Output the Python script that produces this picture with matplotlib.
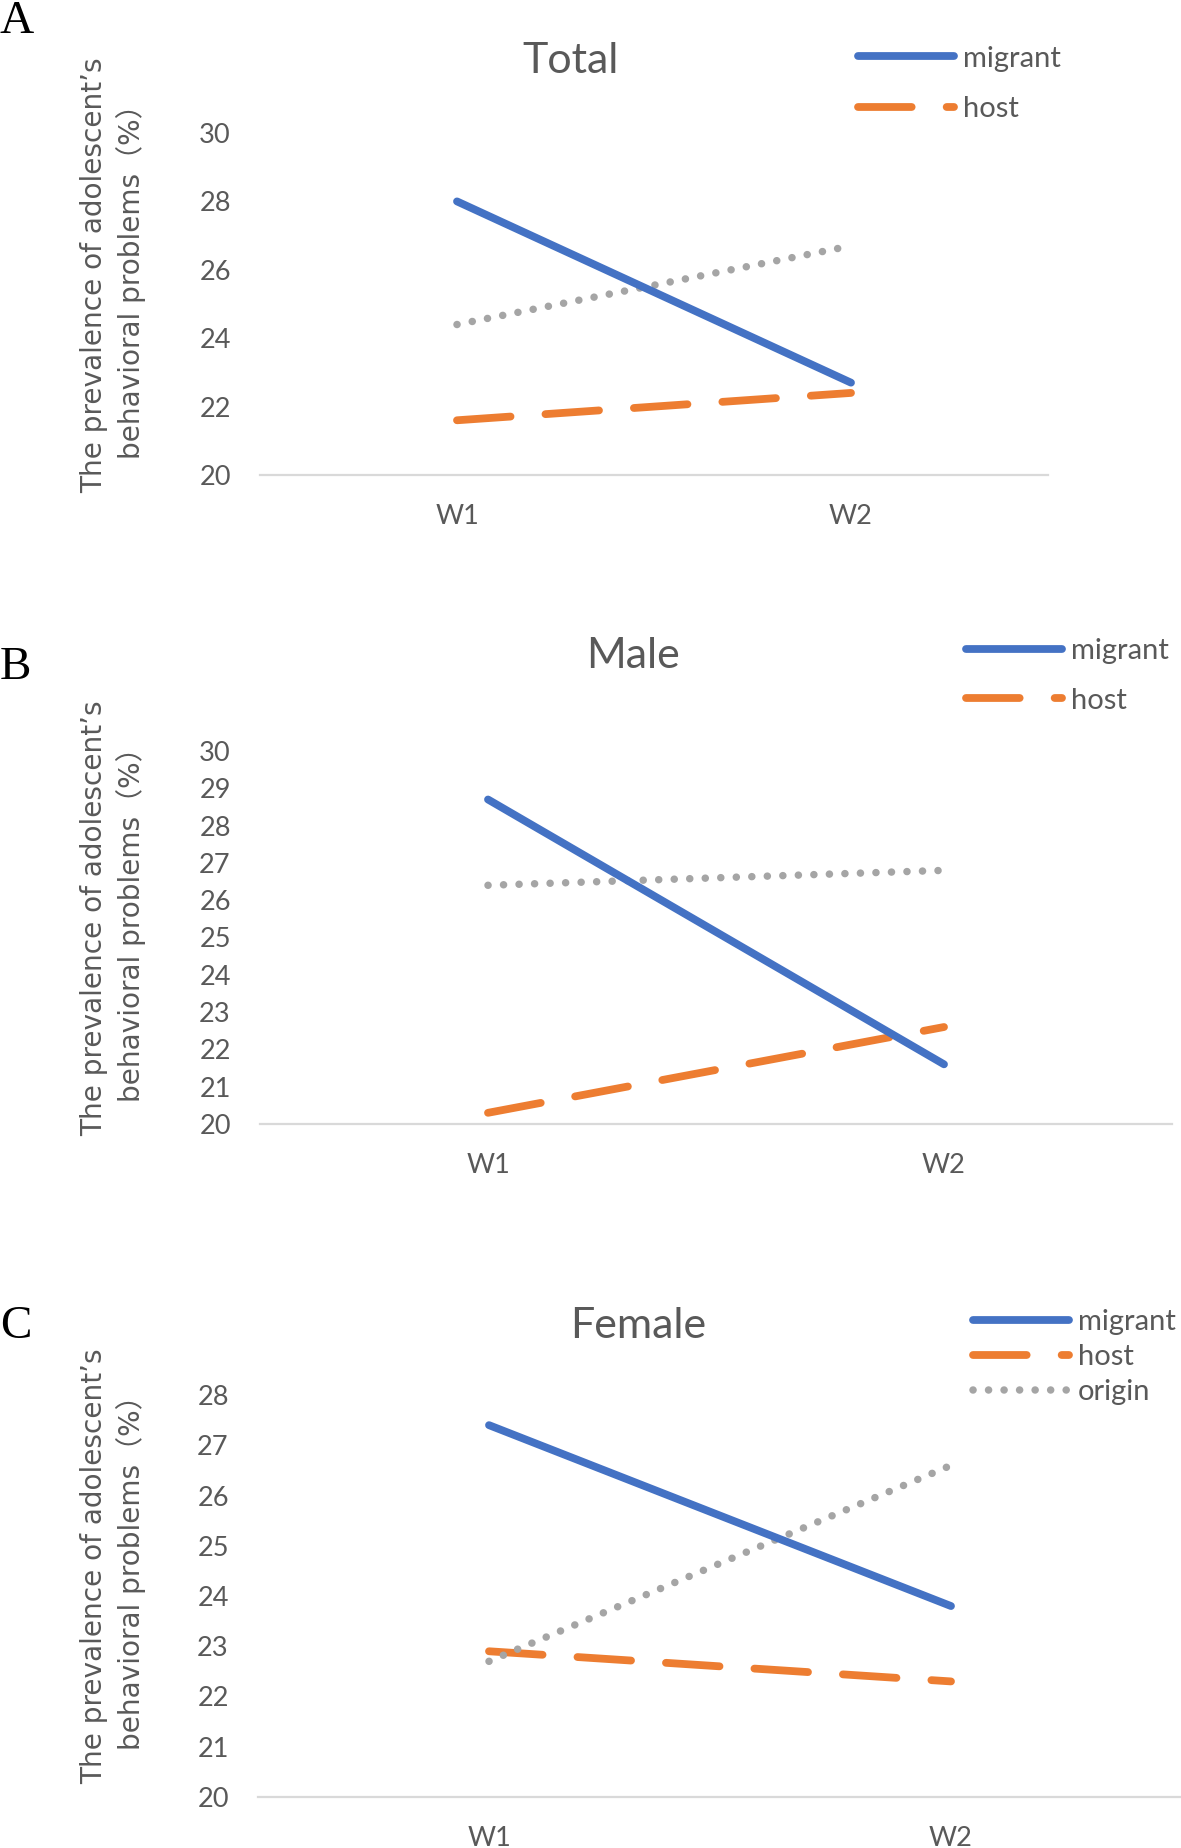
import matplotlib
matplotlib.use("Agg")
import matplotlib.pyplot as plt

# data
waves = ["W1", "W2"]

total_migrant = [28.0, 22.7]
total_host = [21.6, 22.4]
total_origin = [24.4, 26.7]

male_migrant = [28.7, 21.6]
male_host = [20.3, 22.6]
male_origin = [26.4, 26.8]

female_migrant = [27.4, 23.8]
female_host = [22.9, 22.3]
female_origin = [22.7, 26.6]

series_names = ["migrant", "host", "origin"]

W, H = 1181, 1848
DPI = 100

BLUE = "#4472C4"
ORANGE = "#ED7D31"
GRAY = "#A5A5A5"
TEXT = "#595959"
AXIS = "#D9D9D9"

FONT = ["Lato", "DejaVu Sans"]
YFONT = ["DejaVu Sans", "Noto Sans CJK SC"]

fig = plt.figure(figsize=(W / DPI, H / DPI), dpi=DPI)


def fx(px):
    return px / W


def fy(px):
    return 1 - px / H


def panel(box, migrant, host, origin, yticks, title, title_xy, letter, letter_y,
          ylabel_y, legend_xy, legend_n, legend_spacing):
    left, top, right, bottom = box
    ax = fig.add_axes([fx(left), fy(bottom), (right - left) / W, (bottom - top) / H])
    x = list(range(len(waves)))
    ax.plot(x, migrant, color=BLUE, lw=5.6, solid_capstyle="round",
            clip_on=False, label=series_names[0], zorder=3)
    ax.plot(x, host, color=ORANGE, lw=5.6, dashes=(6.9, 4.5), dash_capstyle="round",
            clip_on=False, label=series_names[1], zorder=2)
    ax.plot(x, origin, color=GRAY, lw=5.4, dashes=(0.01, 2.06), dash_capstyle="round",
            clip_on=False, label=series_names[2], zorder=2)
    ax.set_xlim(-0.5, len(waves) - 0.5)
    ax.set_ylim(yticks[0], yticks[-1])
    ax.set_xticks(x)
    ax.set_xticklabels(waves)
    ax.set_yticks(yticks)
    ax.set_yticklabels([str(t) for t in yticks])
    for s in ["top", "right", "left"]:
        ax.spines[s].set_visible(False)
    ax.spines["bottom"].set_color(AXIS)
    ax.spines["bottom"].set_linewidth(1.6)
    ax.tick_params(axis="both", length=0, labelsize=19.5, colors=TEXT)
    ax.tick_params(axis="y", pad=21)
    ax.tick_params(axis="x", pad=21)
    for lab in ax.get_xticklabels() + ax.get_yticklabels():
        lab.set_family(FONT)
    ax.patch.set_alpha(0)

    fig.text(fx(title_xy[0]), fy(title_xy[1]), title, ha="center", va="center",
             fontsize=31, color=TEXT, family=FONT)
    fig.text(fx(0), fy(letter_y), letter, ha="left", va="center",
             fontsize=34, color="black", family=["Liberation Serif", "DejaVu Serif"])
    fig.text(fx(113), fy(ylabel_y),
             "The prevalence of adolescent\u2019s\nbehavioral problems\uff08%\uff09",
             rotation=90, ha="center", va="center", multialignment="center",
             fontsize=20.2, color=TEXT, family=YFONT, linespacing=1.3)

    handles, labels = ax.get_legend_handles_labels()
    ax.legend(handles[:legend_n], labels[:legend_n], loc="center left",
              bbox_to_anchor=(fx(legend_xy[0]), fy(legend_xy[1])),
              bbox_transform=fig.transFigure, frameon=False,
              handlelength=3.3, handletextpad=0.3, labelspacing=legend_spacing,
              borderpad=0, borderaxespad=0, prop={"family": FONT, "size": 21},
              labelcolor=TEXT)
    return ax


panel((260, 133, 1048, 475), total_migrant, total_host, total_origin,
      [20, 22, 24, 26, 28, 30], "Total", (571, 61), "A", 22, 275,
      (858, 84), 2, 0.85)

panel((260, 751, 1172, 1124), male_migrant, male_host, male_origin,
      list(range(20, 31)), "Male", (633, 656), "B", 668, 918,
      (966, 676), 2, 0.8)

panel((258, 1395, 1182, 1797), female_migrant, female_host, female_origin,
      list(range(20, 29)), "Female", (638, 1326), "C", 1327, 1566,
      (973, 1357), 3, 0.3)

fig.savefig("out.png", dpi=DPI)
